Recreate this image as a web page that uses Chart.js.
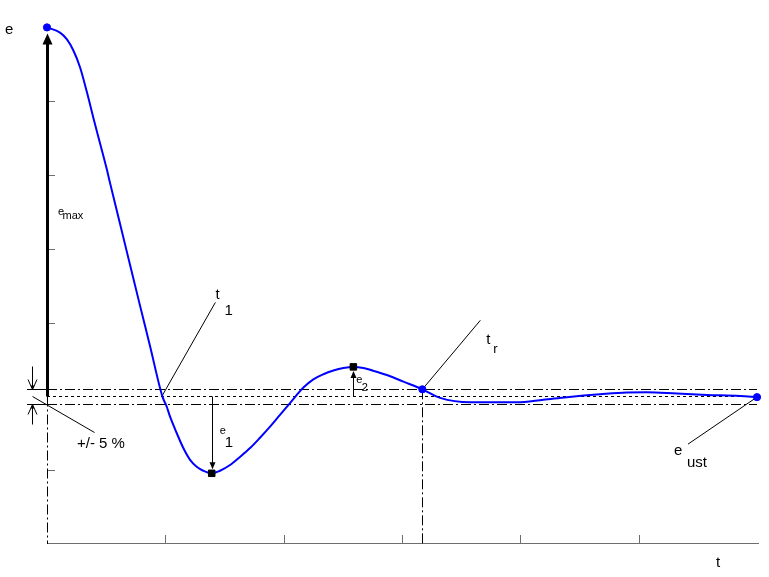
<!DOCTYPE html>
<html><head><meta charset="utf-8">
<script src="https://cdn.jsdelivr.net/npm/chart.js@4"></script>
<style>html,body{margin:0;padding:0;background:#fff}canvas{display:block}</style>
</head><body>
<canvas id="c" width="769" height="577"></canvas>
<script>
// ---- data ----
const curveT = [0, 0.11, 0.167, 0.222, 0.279, 0.336, 0.391, 0.448, 0.505, 0.533, 0.617, 0.702, 0.786, 0.871, 0.975, 1.012, 1.040, 1.096, 1.152, 1.209, 1.265, 1.321, 1.392, 1.462, 1.547, 1.631, 1.716, 1.800, 1.885, 1.969, 2.054, 2.111, 2.167, 2.251, 2.336, 2.420, 2.505, 2.589, 2.674, 2.730, 2.872, 3.012, 3.172, 3.322, 3.576, 3.970, 4.195, 4.393, 4.674, 4.900, 5.069, 5.323, 5.577, 5.858, 6.0];
const curveE = [7.0, 6.93, 6.84, 6.69, 6.46, 6.13, 5.78, 5.43, 5.08, 4.89, 4.34, 3.78, 3.23, 2.68, 2.0, 1.86, 1.725, 1.504, 1.30, 1.14, 1.047, 0.993, 0.958, 0.993, 1.07, 1.18, 1.30, 1.44, 1.59, 1.75, 1.91, 2.02, 2.12, 2.23, 2.30, 2.35, 2.385, 2.40, 2.385, 2.36, 2.29, 2.20, 2.096, 1.98, 1.92, 1.92, 1.955, 1.99, 2.03, 2.054, 2.056, 2.038, 2.02, 2.005, 1.99];
const tMax = 6, eTop = 7;
const eMax = 7.0, eUst = 2.0, band = 0.1;
const t1Cross = 0.975;
const tR = 3.172, eR = 2.096;
const t1Min = 1.392, e1Min = 0.958;
const t2Max = 2.589, e2Max = 2.40;
const tEnd = 6.0, eEnd = 1.99;
const xTicks = [1, 2, 3, 4, 5];
const yTicks = [1, 3, 4, 5, 6];
const blueMarkT = [0, tR, tEnd];
const blueMarkE = [eMax, eR, eEnd];
const squareT = [t1Min, t2Max];
const squareE = [e1Min, e2Max];

const FONT = '"Liberation Sans", Arial, sans-serif';

function seg(ctx, x1, y1, x2, y2) { ctx.beginPath(); ctx.moveTo(x1, y1); ctx.lineTo(x2, y2); ctx.stroke(); }
function tri(ctx, pts) { ctx.beginPath(); ctx.moveTo(pts[0], pts[1]); ctx.lineTo(pts[2], pts[3]); ctx.lineTo(pts[4], pts[5]); ctx.closePath(); ctx.fill(); }

const annot = {
  id: 'annot',
  beforeDatasetsDraw(c) {
    const ctx = c.ctx, X = c.scales.x, Y = c.scales.y;
    const px = v => X.getPixelForValue(v), py = v => Y.getPixelForValue(v);
    const x0 = Math.round(px(0)), xE = px(tMax), y0 = Math.round(py(0));
    ctx.save();
    // x axis + ticks (gray, inward)
    ctx.strokeStyle = '#6e6e6e'; ctx.lineWidth = 1;
    seg(ctx, x0, y0 - 0.5, xE + 2, y0 - 0.5);
    xTicks.forEach(v => { const x = Math.round(px(v)) + 0.5; seg(ctx, x, y0 - 9, x, y0); });
    yTicks.forEach(v => { const y = Math.round(py(v)) + 0.5; seg(ctx, x0, y, x0 + 8, y); });

    ctx.strokeStyle = '#000'; ctx.fillStyle = '#000';
    const yHi = Math.round(py(eUst + band)) + 0.5, yLo = Math.round(py(eUst - band)) + 0.5, yMid = Math.round(py(eUst)) + 0.5;
    // band lines
    seg(ctx, x0 - 20, yHi, x0, yHi); seg(ctx, x0 - 20, yLo, x0, yLo);
    ctx.setLineDash([10, 3, 2, 3]);
    seg(ctx, x0, yHi, xE, yHi); seg(ctx, x0, yLo, xE, yLo);
    // vertical dash-dot at t=0 and t=tr
    seg(ctx, x0 + 0.5, yMid, x0 + 0.5, y0);
    const xr = Math.round(px(tR)) + 0.5;
    seg(ctx, xr, py(eR), xr, y0);
    ctx.setLineDash([3, 3]);
    seg(ctx, x0, yMid, xE, yMid);
    ctx.setLineDash([]);

    // e_max arrow
    const yTip = py(eMax) + 6;
    ctx.lineWidth = 3;
    seg(ctx, x0 + 0.5, yMid, x0 + 0.5, yTip + 9);
    ctx.lineWidth = 1;
    tri(ctx, [x0 + 0.5, yTip, x0 - 4.5, yTip + 11, x0 + 5.5, yTip + 11]);

    // e1 arrow
    const x1 = Math.round(px(t1Min)) + 0.5, yb1 = py(e1Min);
    seg(ctx, x1, yMid, x1, yb1 - 9);
    tri(ctx, [x1 - 3, yb1 - 11, x1 + 3, yb1 - 11, x1, yb1 - 4]);
    // e2 arrow
    const x2 = Math.round(px(t2Max)) + 0.5, yb2 = py(e2Max);
    seg(ctx, x2, yMid, x2, yb2 + 8);
    tri(ctx, [x2 - 3, yb2 + 11, x2 + 3, yb2 + 11, x2, yb2 + 4]);

    // +/- 5 % dimension arrows
    const xd = x0 - 14.5;
    seg(ctx, xd, yHi - 23, xd, yHi); seg(ctx, xd, yLo, xd, yLo + 20);
    seg(ctx, xd - 4.5, yHi - 10, xd, yHi); seg(ctx, xd + 4.5, yHi - 10, xd, yHi);
    seg(ctx, xd - 4.5, yLo + 10, xd, yLo); seg(ctx, xd + 4.5, yLo + 10, xd, yLo);
    tri(ctx, [xd - 2, yHi - 4, xd + 2, yHi - 4, xd, yHi]);
    tri(ctx, [xd - 2, yLo + 4, xd + 2, yLo + 4, xd, yLo]);

    // leader lines
    seg(ctx, xd, yMid, xd + 62, yMid + 36);
    const xc = px(t1Cross);
    seg(ctx, xc, py(eUst) - 1, xc + 53, py(eUst) - 94);
    seg(ctx, px(tR), py(eR), px(tR) + 58, py(eR) - 69);
    seg(ctx, px(tEnd) - 3, py(eEnd) + 2, px(tEnd) - 69, py(eEnd) + 47);
    ctx.restore();
  },
  afterDraw(c) {
    const ctx = c.ctx, X = c.scales.x, Y = c.scales.y;
    const px = v => X.getPixelForValue(v), py = v => Y.getPixelForValue(v);
    const x0 = px(0), y0 = py(0);
    ctx.save();
    ctx.fillStyle = '#000'; ctx.textBaseline = 'alphabetic'; ctx.textAlign = 'left';
    const T = (s, x, y, size) => { ctx.font = size + 'px ' + FONT; ctx.fillText(s, x, y); };
    T('e', x0 - 42, py(eMax) + 7, 15);
    T('t', px(tMax) - 41, y0 + 23, 15);
    const ym = (py(eMax) + py(eUst)) / 2;
    T('e', x0 + 11, ym + 3, 11); T('max', x0 + 15.5, ym + 7, 11);
    T('+/- 5 %', x0 + 30, py(eUst) + 52, 15);
    const xc = px(t1Cross);
    T('t', xc + 53, py(eUst) - 97, 15); T('1', xc + 62, py(eUst) - 81, 15);
    T('t', px(tR) + 64, py(eR) - 45, 15); T('r', px(tR) + 71, py(eR) - 36, 13);
    T('e', px(tEnd) - 83, py(eEnd) + 58, 15); T('ust', px(tEnd) - 70, py(eEnd) + 70, 15);
    const x1 = px(t1Min);
    T('e', x1 + 8, py(eUst) + 38, 11); T('1', x1 + 13, py(eUst) + 51, 15);
    const x2 = px(t2Max);
    T('e', x2 + 3, py(e2Max) + 16, 11); T('2', x2 + 8.5, py(e2Max) + 24, 11);
    ctx.restore();
  }
};

const pts = (xs, ys) => xs.map((x, i) => ({ x, y: ys[i] }));

new Chart(document.getElementById('c'), {
  type: 'scatter',
  data: {
    datasets: [
      { data: pts(squareT, squareE), pointStyle: 'rect', pointRadius: 4.6, backgroundColor: '#000', borderColor: '#000', borderWidth: 1, showLine: false, clip: false },
      { data: pts(blueMarkT, blueMarkE), pointStyle: 'circle', pointRadius: 3.6, backgroundColor: '#0000ff', borderColor: '#0000ff', borderWidth: 1, showLine: false, clip: false },
      { data: pts(curveT, curveE), showLine: true, borderColor: '#0000ff', borderWidth: 2, pointRadius: 0, cubicInterpolationMode: 'monotone', fill: false, clip: false }
    ]
  },
  options: {
    responsive: false, animation: false, devicePixelRatio: 1,
    layout: { padding: { left: 47, right: 12, top: 27.4, bottom: 33 } },
    plugins: { legend: { display: false }, tooltip: { enabled: false } },
    scales: {
      x: { type: 'linear', min: 0, max: tMax, display: false },
      y: { type: 'linear', min: 0, max: eTop, display: false }
    }
  },
  plugins: [annot]
});
</script>
</body></html>
